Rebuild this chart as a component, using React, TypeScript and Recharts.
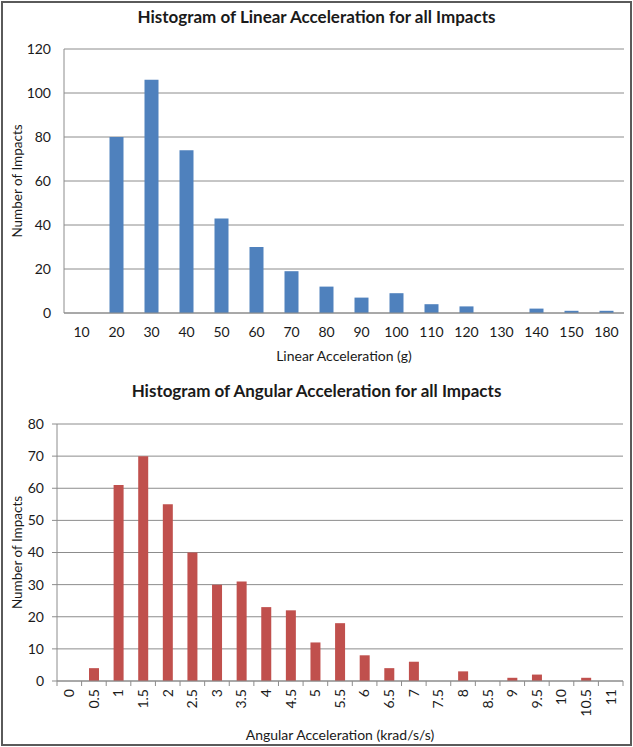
import React from 'react';
import { BarChart, Bar, XAxis, YAxis, CartesianGrid, Label } from 'recharts';

const FONT = 'Lato, "Open Sans", sans-serif';
const GRID = '#8c8c8c';
const TEXT = '#1a1a1a';

const linearCategories = ['10', '20', '30', '40', '50', '60', '70', '80', '90', '100', '110', '120', '130', '140', '150', '180'];
const linearCounts = [0, 80, 106, 74, 43, 30, 19, 12, 7, 9, 4, 3, 0, 2, 1, 1];
const linearTicks = [0, 20, 40, 60, 80, 100, 120];

const angularCategories = ['0', '0.5', '1', '1.5', '2', '2.5', '3', '3.5', '4', '4.5', '5', '5.5', '6', '6.5', '7', '7.5', '8', '8.5', '9', '9.5', '10', '10.5', '11'];
const angularCounts = [0, 4, 61, 70, 55, 40, 30, 31, 23, 22, 12, 18, 8, 4, 6, 0, 3, 0, 1, 2, 0, 1, 0];
const angularTicks = [0, 10, 20, 30, 40, 50, 60, 70, 80];

const linearData = linearCategories.map((c, i) => ({ cat: c, count: linearCounts[i] }));
const angularData = angularCategories.map((c, i) => ({ cat: c, count: angularCounts[i] }));

const TICK_SIZE = 5;
const TICK_MARGIN = 3;
const TICK_FONT = 14;

const YTitle = (props: any) => {
  const vb = props.viewBox || {};
  const cy = vb.y + vb.height / 2;
  const cx = 17;
  return (
    <text
      x={cx}
      y={cy}
      transform={`rotate(-90 ${cx} ${cy})`}
      textAnchor="middle"
      dominantBaseline="central"
      fontFamily={FONT}
      fontSize={13.5}
      fill={TEXT}
    >
      Number of Impacts
    </text>
  );
};

const AngularTick = (props: any) => {
  const { x, y, payload, index, visibleTicksCount } = props;
  const half = payload && typeof payload.offset === 'number' && payload.offset > 0 ? payload.offset : 12.3;
  const axisY = y - TICK_SIZE - TICK_MARGIN;
  const last = index === (visibleTicksCount ?? angularCategories.length) - 1;
  return (
    <g>
      <line x1={x - half} x2={x - half} y1={axisY} y2={axisY + TICK_SIZE} stroke={GRID} />
      {last && <line x1={x + half} x2={x + half} y1={axisY} y2={axisY + TICK_SIZE} stroke={GRID} />}
      <text
        x={x}
        y={y}
        transform={`rotate(-90 ${x} ${y})`}
        textAnchor="end"
        dy="0.35em"
        fontFamily={FONT}
        fontSize={TICK_FONT}
        fill={TEXT}
      >
        {payload.value}
      </text>
    </g>
  );
};

const titleStyle: React.CSSProperties = {
  position: 'absolute',
  left: 0,
  width: 633,
  textAlign: 'center',
  fontFamily: FONT,
  fontWeight: 700,
  fontSize: 17,
  lineHeight: '20px',
  color: TEXT,
};

const tickStyle = { fill: TEXT, fontSize: TICK_FONT, fontFamily: FONT };

export default function App() {
  return (
    <div style={{ position: 'absolute', left: 0, top: 0, width: 633, height: 747, background: '#fff', overflow: 'hidden' }}>
      <div style={{ ...titleStyle, top: 7 }}>Histogram of Linear Acceleration for all Impacts</div>
      <div style={{ position: 'absolute', left: 0, top: 0 }}>
        <BarChart
          width={633}
          height={370}
          data={linearData}
          margin={{ top: 49, right: 9, bottom: 7, left: 0 }}
          barCategoryGap="30%"
        >
          <CartesianGrid vertical={false} stroke={GRID} />
          <XAxis
            dataKey="cat"
            interval={0}
            axisLine={{ stroke: GRID }}
            tickLine={false}
            tickSize={6}
            tickMargin={8}
            height={50}
            tick={tickStyle}
          >
            <Label
              value="Linear Acceleration (g)"
              position="insideBottom"
              offset={2}
              style={{ fill: TEXT, fontSize: 14, fontFamily: FONT }}
            />
          </XAxis>
          <YAxis
            width={64}
            domain={[0, 120]}
            ticks={linearTicks}
            interval={0}
            axisLine={{ stroke: GRID }}
            tickLine={false}
            tickSize={6}
            tickMargin={7}
            tick={tickStyle}
          >
            <Label content={YTitle} />
          </YAxis>
          <Bar dataKey="count" fill="#4F81BD" isAnimationActive={false} />
        </BarChart>
      </div>

      <div style={{ ...titleStyle, top: 381 }}>Histogram of Angular Acceleration for all Impacts</div>
      <div style={{ position: 'absolute', left: 0, top: 372 }}>
        <BarChart
          width={633}
          height={375}
          data={angularData}
          margin={{ top: 52, right: 10, bottom: 4, left: 0 }}
          barCategoryGap="30%"
        >
          <CartesianGrid vertical={false} stroke={GRID} />
          <XAxis
            dataKey="cat"
            interval={0}
            axisLine={{ stroke: GRID }}
            tickLine={false}
            tickSize={TICK_SIZE}
            tickMargin={TICK_MARGIN}
            height={62}
            tick={<AngularTick />}
          >
            <Label
              value="Angular Acceleration (krad/s/s)"
              position="insideBottom"
              offset={3}
              style={{ fill: TEXT, fontSize: 14, fontFamily: FONT }}
            />
          </XAxis>
          <YAxis
            width={57}
            domain={[0, 80]}
            ticks={angularTicks}
            interval={0}
            axisLine={{ stroke: GRID }}
            tickLine={{ stroke: GRID }}
            tickSize={5}
            tickMargin={8}
            tick={tickStyle}
          >
            <Label content={YTitle} />
          </YAxis>
          <Bar dataKey="count" fill="#C0504D" isAnimationActive={false} />
        </BarChart>
      </div>

      <div
        style={{
          position: 'absolute',
          left: 1,
          top: 1,
          width: 631,
          height: 745,
          border: '2px solid #5a5a5a',
          boxSizing: 'border-box',
          pointerEvents: 'none',
        }}
      />
    </div>
  );
}
